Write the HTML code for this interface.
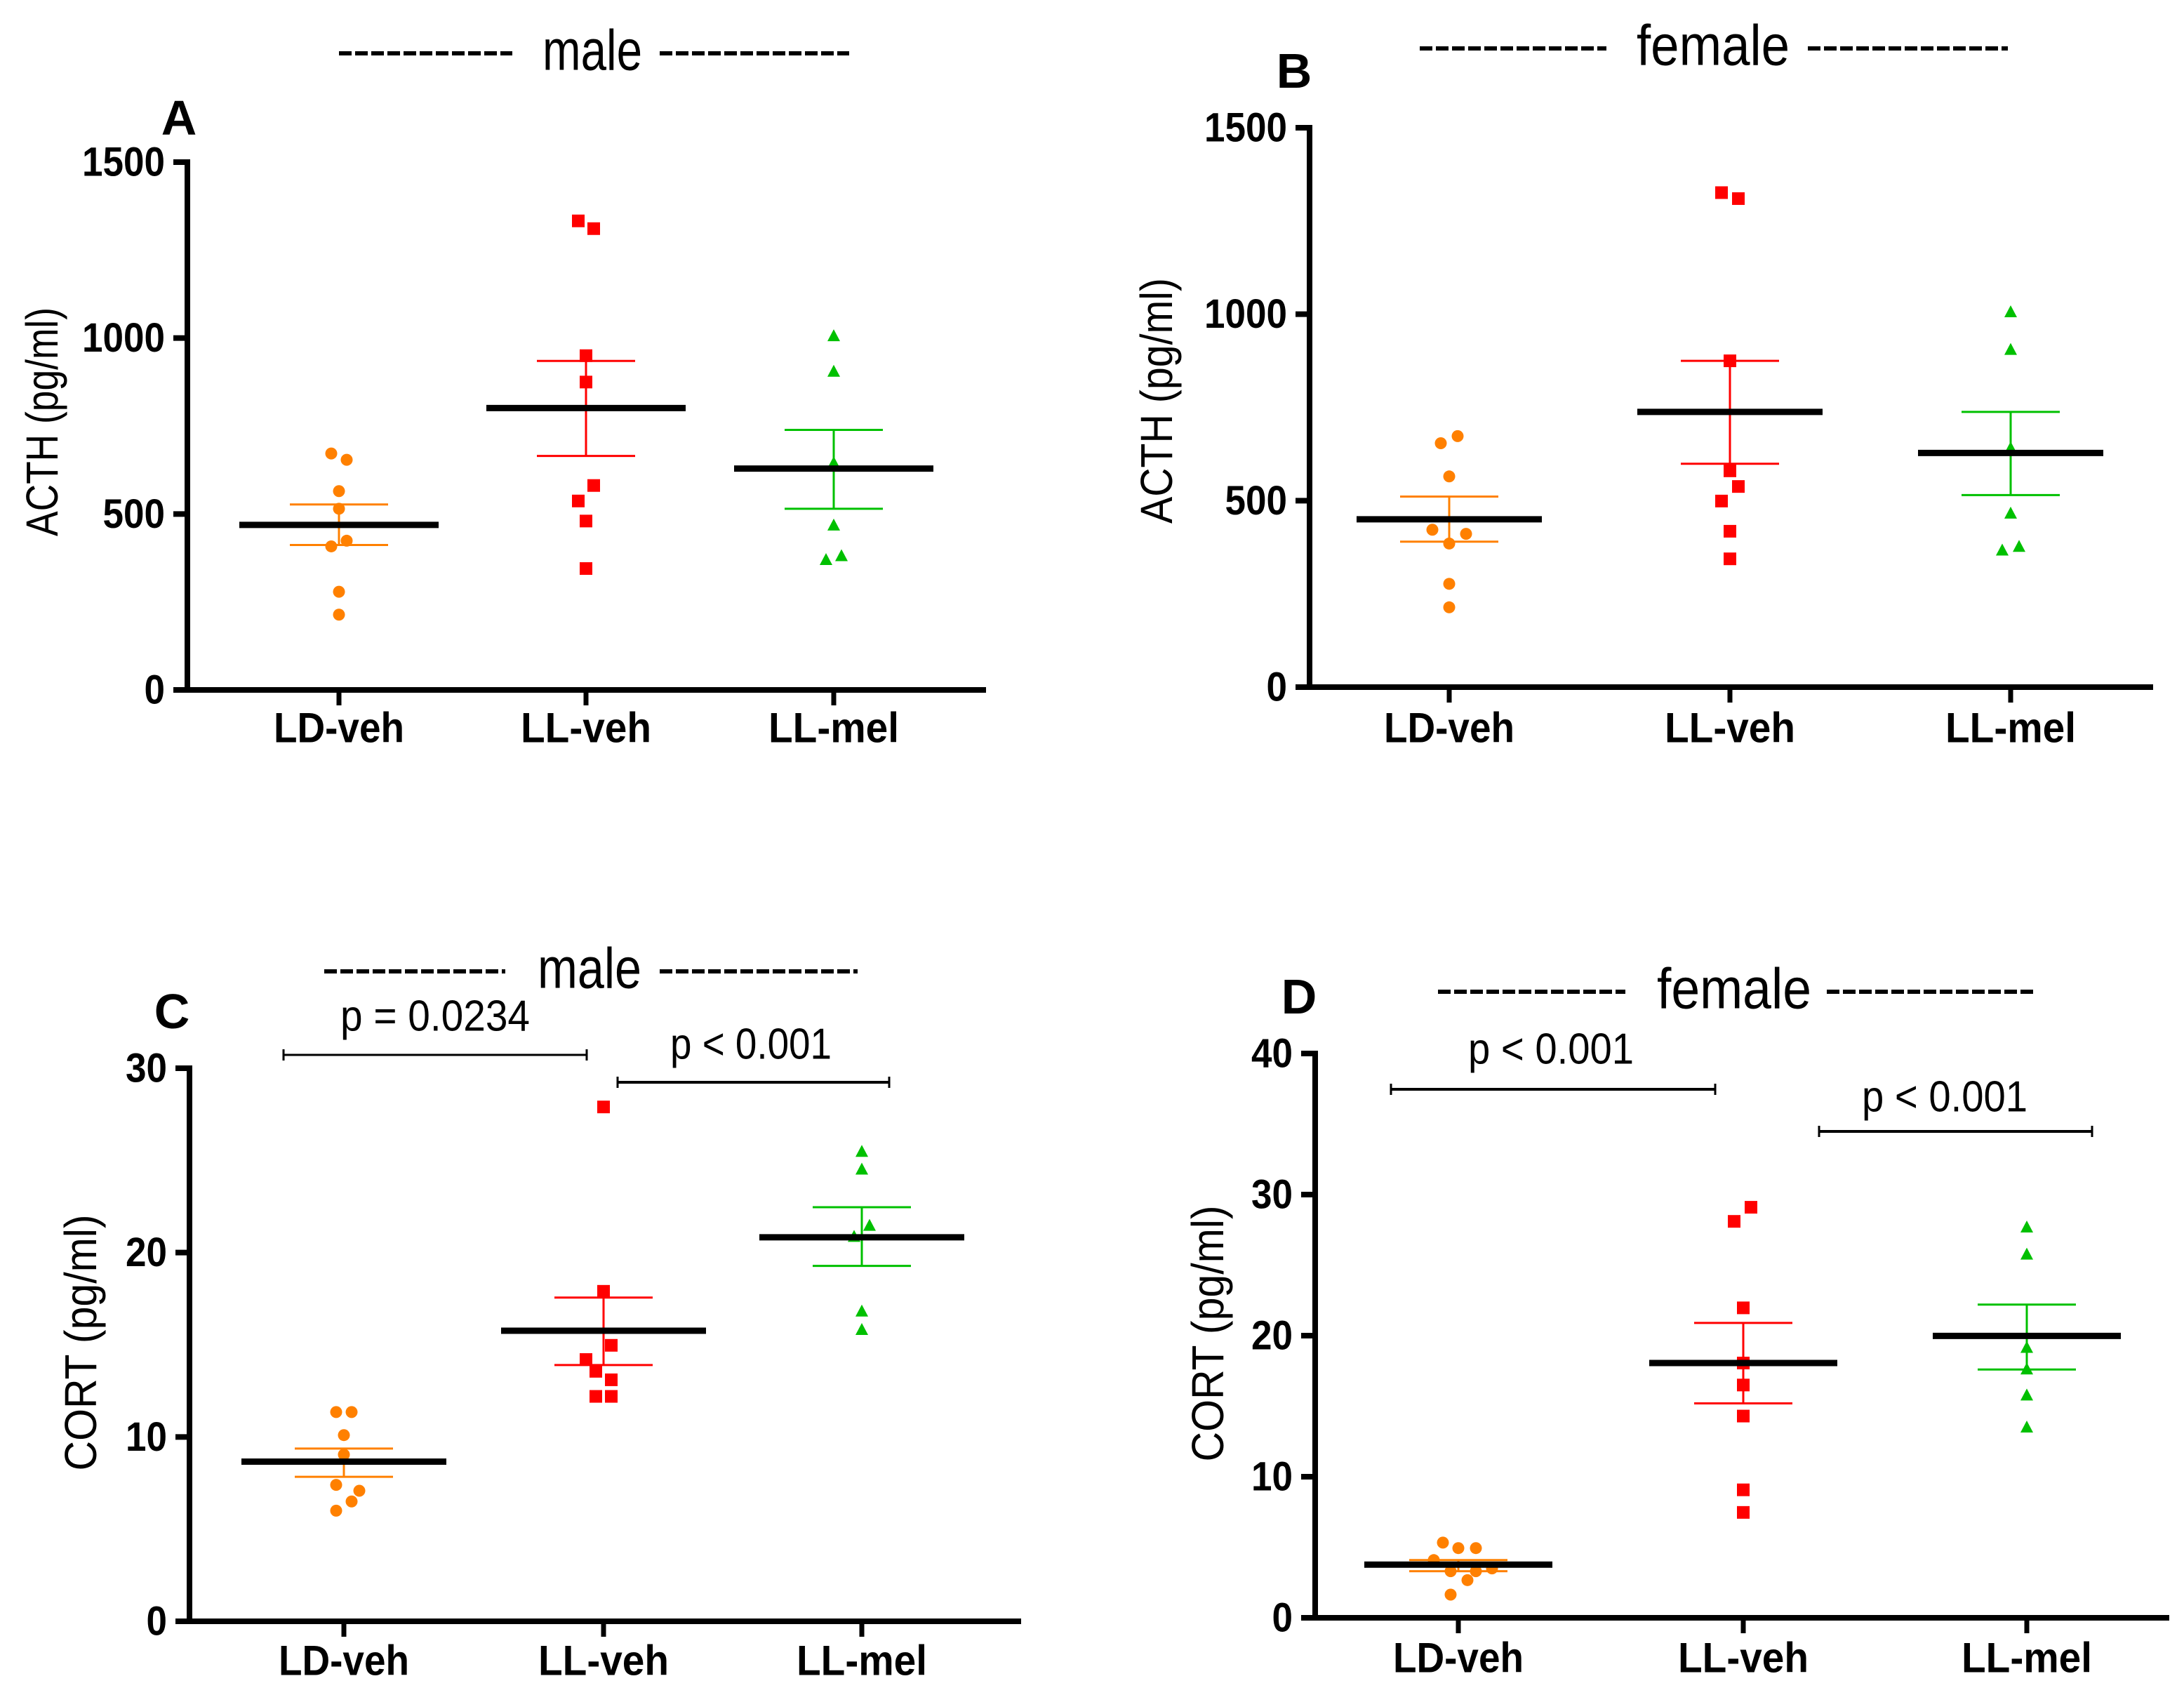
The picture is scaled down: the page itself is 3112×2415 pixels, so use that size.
<!DOCTYPE html>
<html><head><meta charset="utf-8"><style>
html,body{margin:0;padding:0;background:#fff;}
svg{display:block;}
text{font-family:"Liberation Sans",Arial,sans-serif;}
</style></head><body>
<svg id="fig" width="3112" height="2415" viewBox="0 0 3112 2415" xmlns="http://www.w3.org/2000/svg"></svg>
<script>
// ---- data ----
const categories = ["LD-veh","LL-veh","LL-mel"];
// Panel A (male ACTH)
const aLD = [672,654,565,515,424,408,279,214];
const aLDdx = [-11,11,0,0,11,-11,0,0];
const aLLveh = [1333,1311,950,875,581,537,480,345];
const aLLvehDx = [-11,11,0,0,11,-11,0,0];
const aLLmel = [1005,904,644,467,380,369];
const aLLmelDx = [0,0,0,0,11,-11];
const aMean = [469,801,629];
const aSemHi = [527,935,739];
const aSemLo = [412,665,515];
const aTicks = [0,500,1000,1500];
// Panel B (female ACTH)
const bLD = [673,654,565,422,411,385,277,214];
const bLDdx = [12,-12,0,-24,24,0,0,0];
const bLLveh = [1326,1310,875,580,538,499,418,344];
const bLLvehDx = [-12,12,0,0,12,-12,0,0];
const bLLmel = [1005,904,640,465,376,366];
const bLLmelDx = [0,0,0,0,12,-12];
const bMean = [450,738,628];
const bSemHi = [511,875,738];
const bSemLo = [390,599,515];
const bTicks = [0,500,1000,1500];
// Panel C (male CORT)
const cLD = [11.35,11.35,10.1,9.04,7.4,7.08,6.5,6.0];
const cLDdx = [-11,11,0,0,-11,22,11,-11];
const cLLveh = [27.9,17.9,14.97,14.2,13.56,13.1,12.2,12.2];
const cLLvehDx = [0,0,11,-25,-11,11,-11,11];
const cLLmel = [25.46,24.5,21.45,20.85,16.8,15.8];
const cLLmelDx = [0,0,11,-11,0,0];
const cMean = [8.66,15.76,20.83];
const cSemHi = [9.37,17.56,22.46];
const cSemLo = [7.84,13.9,19.28];
const cTicks = [0,10,20,30];
// Panel D (female CORT)
const dLD = [5.33,4.94,4.94,4.09,3.3,3.3,3.5,2.67,1.64];
const dLDdx = [-22,0,25,-35,-11,25,48,13,-11];
const dLLveh = [29.1,28.1,21.97,18.06,16.5,14.3,9.07,7.47];
const dLLvehDx = [11,-13,0,0,0,0,0,0];
const dLLmel = [27.66,25.74,19.13,17.6,15.75,13.48];
const dLLmelDx = [0,0,0,0,0,0];
const dMean = [3.77,18.06,19.98];
const dSemHi = [4.09,20.9,22.2];
const dSemLo = [3.3,15.2,17.6];
const dTicks = [0,10,20,30,40];

const NS="http://www.w3.org/2000/svg";
const svg=document.getElementById('fig');
function el(tag,attrs,parent,txt){const e=document.createElementNS(NS,tag);for(const k in attrs)e.setAttribute(k,attrs[k]);if(txt!==undefined)e.textContent=txt;(parent||svg).appendChild(e);return e;}
const colors=["#ff8000","#ff0000","#00c000"];
const shapes=["circle","square","triangle"];

function panel(p){
  const g=el('g',{});
  
  
  const ymax=p.ticks[p.ticks.length-1];
  const Y=v=>p.y0-(v/ymax)*(p.y0-p.yTop);
  const t=el('text',{x:p.titleX,y:p.titleY,'font-size':82,'text-anchor':'middle','dominant-baseline':'central',textLength:p.titleW,lengthAdjust:'spacingAndGlyphs'},g,p.title);
  
  
  [[p.dashL1,p.dashL2],[p.dashR1,p.dashR2]].forEach(d=>{
    const ln=el('line',{x1:d[0],x2:d[1],y1:p.titleY+4,y2:p.titleY+4,stroke:'#000','stroke-width':6,'stroke-dasharray':'18 5'},g);
    
    
  });
  const L=el('text',{x:p.letterX,y:p.letterY,'font-size':70,'font-weight':'bold','text-anchor':'middle','dominant-baseline':'central'},g,p.id);
  
  
  const ya=el('line',{x1:p.ax,x2:p.ax,y1:p.yTop-4,y2:p.y0+4,stroke:'#000','stroke-width':8},g);
  
  
  const xa=el('line',{x1:p.ax-18,x2:p.xEnd,y1:p.y0,y2:p.y0,stroke:'#000','stroke-width':8},g);
  
  
  p.ticks.forEach(v=>{
    const tk=el('line',{x1:p.ax-20,x2:p.ax,y1:Y(v),y2:Y(v),stroke:'#000','stroke-width':8},g);
    
    
    const s=String(v);
    const tl=el('text',{x:p.ax-32,y:Y(v),'font-size':58,'font-weight':'bold','text-anchor':'end','dominant-baseline':'central',textLength:s.length*29.5,lengthAdjust:'spacingAndGlyphs'},g,s);
    
    
  });
  const yt=el('text',{x:0,y:0,'font-size':64,'text-anchor':'middle','dominant-baseline':'central',transform:`translate(${p.ytX},${p.ytY}) rotate(-90)`,textLength:p.ytW,lengthAdjust:'spacingAndGlyphs'},g,p.ytitle);
  
  
  categories.forEach((c,i)=>{
    const cx=p.cats[i];
    const tk=el('line',{x1:cx,x2:cx,y1:p.y0,y2:p.y0+22,stroke:'#000','stroke-width':7},g);
    
    
    const lb=el('text',{x:cx,y:p.catY,'font-size':60,'font-weight':'bold','text-anchor':'middle','dominant-baseline':'central',textLength:c.length===6?186:182,lengthAdjust:'spacingAndGlyphs'},g,c);
    
    
    const col=colors[i];
    p.series[i].forEach((v,j)=>{
      const x=cx+p.dx[i][j], y=Y(v);
      let m;
      if(shapes[i]==='circle') m=el('circle',{cx:x,cy:y,r:8.5,fill:col},g);
      else if(shapes[i]==='square') m=el('rect',{x:x-9,y:y-9,width:18,height:18,fill:col},g);
      else m=el('polygon',{points:`${x},${y-10} ${x-9},${y+7} ${x+9},${y+7}`,fill:col},g);
      
      
    });
    const hi=Y(p.semHi[i]),lo=Y(p.semLo[i]);
    const e1=el('line',{x1:cx,x2:cx,y1:hi,y2:lo,stroke:col,'stroke-width':3},g);
    
    
    [hi,lo].forEach(yy=>{
      const cp=el('line',{x1:cx-70,x2:cx+70,y1:yy,y2:yy,stroke:col,'stroke-width':3},g);
      
      
    });
    const mn=el('line',{x1:cx-p.mhw,x2:cx+p.mhw,y1:Y(p.mean[i]),y2:Y(p.mean[i]),stroke:'#000','stroke-width':9},g);
    
    
  });
  (p.brackets||[]).forEach(b=>{
    const bl=el('line',{x1:b.x1,x2:b.x2,y1:b.y,y2:b.y,stroke:'#000','stroke-width':b.w},g);
    
    
    [b.x1,b.x2].forEach(xx=>{
      const e=el('line',{x1:xx,x2:xx,y1:b.y-8,y2:b.y+8,stroke:'#000','stroke-width':3},g);
      
      
    });
    const pt=el('text',{x:b.tx,y:b.ty,'font-size':62,'text-anchor':'middle','dominant-baseline':'central',textLength:b.tw,lengthAdjust:'spacingAndGlyphs'},g,b.text);
    
    
  });
}

panel({id:'A',title:'male',titleX:844,titleY:72,titleW:142,dashL1:483,dashL2:730,dashR1:940,dashR2:1210,
  letterX:255,letterY:168,ax:267,yTop:231,y0:983,xEnd:1405,cats:[483,835,1188],catY:1037,
  ytitle:'ACTH (pg/ml)',ytX:60,ytY:601,ytW:326,ticks:aTicks,mhw:142,
  series:[aLD,aLLveh,aLLmel],dx:[aLDdx,aLLvehDx,aLLmelDx],mean:aMean,semHi:aSemHi,semLo:aSemLo});
panel({id:'B',title:'female',titleX:2441,titleY:65,titleW:218,dashL1:2023,dashL2:2289,dashR1:2576,dashR2:2861,
  letterX:1844,letterY:101,ax:1866,yTop:182,y0:979,xEnd:3068,cats:[2065,2465,2865],catY:1037,
  ytitle:'ACTH (pg/ml)',ytX:1648,ytY:571,ytW:350,ticks:bTicks,mhw:132,
  series:[bLD,bLLveh,bLLmel],dx:[bLDdx,bLLvehDx,bLLmelDx],mean:bMean,semHi:bSemHi,semLo:bSemLo});
panel({id:'C',title:'male',titleX:840,titleY:1380,titleW:148,dashL1:462,dashL2:720,dashR1:940,dashR2:1222,
  letterX:245,letterY:1441,ax:270,yTop:1522,y0:2310,xEnd:1455,cats:[490,860,1228],catY:2366,
  ytitle:'CORT (pg/ml)',ytX:115,ytY:1913,ytW:365,ticks:cTicks,mhw:146,
  series:[cLD,cLLveh,cLLmel],dx:[cLDdx,cLLvehDx,cLLmelDx],mean:cMean,semHi:cSemHi,semLo:cSemLo,
  brackets:[{x1:404,x2:836,y:1503,w:3,tx:620,ty:1448,tw:270,text:'p = 0.0234'},
            {x1:880,x2:1267,y:1542,w:4,tx:1070,ty:1488,tw:230,text:'p < 0.001'}]});
panel({id:'D',title:'female',titleX:2471,titleY:1409,titleW:220,dashL1:2049,dashL2:2316,dashR1:2603,dashR2:2899,
  letterX:1851,letterY:1420,ax:1874,yTop:1501,y0:2305,xEnd:3091,cats:[2078,2484,2888],catY:2362,
  ytitle:'CORT (pg/ml)',ytX:1721,ytY:1900,ytW:365,ticks:dTicks,mhw:134,
  series:[dLD,dLLveh,dLLmel],dx:[dLDdx,dLLvehDx,dLLmelDx],mean:dMean,semHi:dSemHi,semLo:dSemLo,
  brackets:[{x1:1982,x2:2444,y:1552,w:4,tx:2210,ty:1495,tw:236,text:'p < 0.001'},
            {x1:2592,x2:2981,y:1612,w:4,tx:2771,ty:1563,tw:236,text:'p < 0.001'}]});
</script>
</body></html>
